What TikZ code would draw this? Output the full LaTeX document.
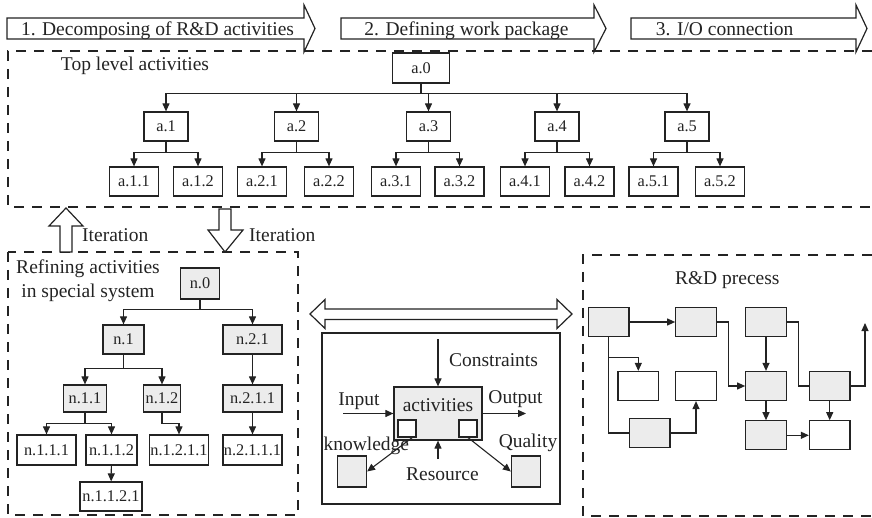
\documentclass[tikz,border=0pt]{standalone}
\usepackage{fontspec}
\setmainfont{Liberation Serif}
\usetikzlibrary{positioning,arrows.meta}
\definecolor{cEdge}{RGB}{35,35,35}
\definecolor{cFill}{RGB}{236,236,236}
\tikzset{
  box/.style={
    rectangle, draw=cEdge, line width=1.2pt, fill=white,
    font=\fontsize{16.3}{18}\selectfont, text=cEdge,
    inner sep=1pt, minimum height=29pt,
  },
  gbox/.style={box, fill=cFill},
  pbox/.style={box, minimum width=40.5pt, minimum height=29pt},
  lab/.style={font=\fontsize{19.5}{23.3}\selectfont, text=cEdge, inner sep=0pt},
  link/.style={line width=1.1pt, draw=cEdge},
  arr/.style={-{Triangle[length=8pt,width=7pt]}, line width=1.1pt, draw=cEdge},
  frame/.style={draw=cEdge, line width=1.1pt, dash pattern=on 10pt off 8pt},
  blockarr/.style={draw=cEdge, line width=1.2pt, fill=white, line join=miter},
}

\begin{document}
\begin{tikzpicture}[x=1pt, y=-1pt]
\useasboundingbox (0,0) rectangle (872,518);

% ===== dashed frames =====
\draw[frame] (872,51) -- (8,51) -- (8,207) -- (872,207);
\draw[frame] (8,252) rectangle (298,515);
\draw[frame] (872,255) -- (583,255) -- (583,516) -- (872,516);

% ===== step arrows on top =====
\draw[blockarr] (7,18) -- (304,18) -- (304,5) -- (315,28.5) -- (304,52) -- (304,39) -- (7,39) -- cycle;
\draw[blockarr] (341,18) -- (594,18) -- (594,5) -- (606,28.5) -- (594,52) -- (594,39) -- (341,39) -- cycle;
\draw[blockarr] (631,18) -- (856,18) -- (856,5) -- (867,28.5) -- (856,52) -- (856,39) -- (631,39) -- cycle;
\node[lab, anchor=base] (step1) at (157.5,36) {1. Decomposing of R\&D activities};
\node[lab, anchor=base] (step2) at (466.5,36) {2. Defining work package};
\node[lab, anchor=base] (step3) at (724.7,35.5) {3. I/O connection};

% ===== top level activities =====
\node[lab, anchor=base] (toplab) at (135,70.7) {Top level activities};

\node[box, minimum width=57pt, minimum height=30pt] (a0) at (421,68) {a.0};

\node[box, minimum width=44pt] (a1) at (166,126.5) {a.1};
\node[box, minimum width=44pt] (a2) at (296.5,126.5) {a.2};
\node[box, minimum width=44pt] (a3) at (428.5,126.5) {a.3};
\node[box, minimum width=44pt] (a4) at (557,126.5) {a.4};
\node[box, minimum width=44pt] (a5) at (687,126.5) {a.5};

\node[box, minimum width=49pt] (a11) at (134,181.5) {a.1.1};
\node[box, minimum width=49pt] (a12) at (198,181.5) {a.1.2};
\node[box, minimum width=49pt] (a21) at (262,181.5) {a.2.1};
\node[box, minimum width=49pt] (a22) at (329,181.5) {a.2.2};
\node[box, minimum width=49pt] (a31) at (396,181.5) {a.3.1};
\node[box, minimum width=49pt] (a32) at (459.5,181.5) {a.3.2};
\node[box, minimum width=49pt] (a41) at (525,181.5) {a.4.1};
\node[box, minimum width=49pt] (a42) at (589.5,181.5) {a.4.2};
\node[box, minimum width=49pt] (a51) at (653.5,181.5) {a.5.1};
\node[box, minimum width=49pt] (a52) at (720,181.5) {a.5.2};

\draw[arr] (a0.south) -- ++(0,9.7) -| (a1.north);
\draw[arr] (a0.south) -- ++(0,9.7) -| (a2.north);
\draw[arr] (a0.south) -- ++(0,9.7) -| (a3.north);
\draw[arr] (a0.south) -- ++(0,9.7) -| (a4.north);
\draw[arr] (a0.south) -- ++(0,9.7) -| (a5.north);

\draw[arr] (a1.south) -- ++(0,11) -| (a11.north);
\draw[arr] (a1.south) -- ++(0,11) -| (a12.north);
\draw[arr] (a2.south) -- ++(0,11) -| (a21.north);
\draw[arr] (a2.south) -- ++(0,11) -| (a22.north);
\draw[arr] (a3.south) -- ++(0,11) -| (a31.north);
\draw[arr] (a3.south) -- ++(0,11) -| (a32.north);
\draw[arr] (a4.south) -- ++(0,11) -| (a41.north);
\draw[arr] (a4.south) -- ++(0,11) -| (a42.north);
\draw[arr] (a5.south) -- ++(0,11) -| (a51.north);
\draw[arr] (a5.south) -- ++(0,11) -| (a52.north);

% ===== iteration arrows =====
\draw[blockarr] (60,252) -- (60,226) -- (49,226) -- (66,208) -- (83,226) -- (72,226) -- (72,252) -- cycle;
\draw[blockarr] (219,209) -- (231,209) -- (231,230) -- (243,230) -- (225,252) -- (208,230) -- (219,230) -- cycle;
\node[lab, anchor=base west] (iterup) at (82,241.7) {Iteration};
\node[lab, anchor=base west] (iterdown) at (249,241.7) {Iteration};

% ===== refining activities =====
\node[lab, align=center, anchor=base] (reflab) at (88,297.3) {Refining activities\\in special system};

\node[gbox, minimum width=39pt, minimum height=31pt] (n0) at (200,283.5) {n.0};
\node[gbox, minimum width=41pt] (n1) at (123.5,339.5) {n.1};
\node[gbox, minimum width=59pt] (n21) at (252.5,339.5) {n.2.1};
\node[gbox, minimum width=43pt, minimum height=27pt] (n11) at (85,398.5) {n.1.1};
\node[gbox, minimum width=37pt, minimum height=27pt] (n12) at (162,398.5) {n.1.2};
\node[gbox, minimum width=59pt, minimum height=27pt] (n211) at (252.5,398.5) {n.2.1.1};
\node[box, minimum width=59pt, minimum height=30pt] (n111) at (46.5,450) {n.1.1.1};
\node[box, minimum width=51pt, minimum height=30pt] (n112) at (111.5,450) {n.1.1.2};
\node[box, minimum width=58pt, minimum height=30pt] (n1211) at (179,450) {n.1.2.1.1};
\node[box, minimum width=59pt, minimum height=30pt] (n2111) at (252.5,450) {n.2.1.1.1};
\node[box, minimum width=62pt] (n1121) at (111,496.5) {n.1.1.2.1};

\draw[arr] (n0.south) -- ++(0,10) -| (n1.north);
\draw[arr] (n0.south) -- ++(0,10) -| (n21.north);
\draw[arr] (n1.south) -- ++(0,14) -| (n11.north);
\draw[arr] (n1.south) -- ++(0,14) -| (n12.north);
\draw[arr] (n11.south) -- ++(0,10.7) -| (n111.north);
\draw[arr] (n11.south) -- ++(0,10.7) -| (n112.north);
\draw[arr] (n12.south) -- ++(0,11) -| (n1211.north);
\draw[arr] (n112) -- (n1121);
\draw[arr] (n21) -- (n211);
\draw[arr] (n211) -- (n2111);

% ===== I/O connection =====
\draw[blockarr] (310,314) -- (325,299.5) -- (325,309) -- (557,309) -- (557,299.5) -- (572,314)
  -- (557,328.5) -- (557,319.5) -- (325,319.5) -- (325,328.5) -- cycle;

\node[draw=cEdge, line width=1.2pt, minimum width=238pt, minimum height=171pt, inner sep=0pt] (io) at (441,418.5) {};

\node[gbox, minimum width=88pt, minimum height=53pt] (act) at (438,413.5) {};
\node[lab, anchor=base] (actlab) at (438,411.7) {activities};
\node[box, minimum width=18pt, minimum height=17pt] (ks) at (407,428.5) {};
\node[box, minimum width=18pt, minimum height=17pt] (qs) at (468,428.5) {};
\node[gbox, minimum width=29pt, minimum height=31pt] (kq) at (352,471.5) {};
\node[gbox, minimum width=29pt, minimum height=31pt] (qq) at (526,471.5) {};

\coordinate (cons) at (438,339);
\coordinate (inp) at (343,413.5);
\coordinate (outp) at (526,413.5);
\coordinate (res) at (438,459);

\draw[arr] (cons) -- (act);
\draw[arr] (inp) -- (act);
\draw[arr] (act) -- (outp);
\draw[arr] (res) -- (act);
\draw[arr] (ks.300) -- (kq.east);
\draw[arr] (qs.south) -- (qq.west);

\node[lab, anchor=base] (lcons) at (493.5,366.7) {Constraints};
\node[lab, anchor=base] (linp) at (359,405.7) {Input};
\node[lab, anchor=base] (loutp) at (515.5,403) {Output};
\node[lab, anchor=base] (lknow) at (366.3,450.7) {knowledge};
\node[lab, anchor=base] (lres) at (442.5,480.7) {Resource};
\node[lab, anchor=base] (lqual) at (528,447.7) {Quality};

% ===== R&D process =====
\node[lab, anchor=base] (proclab) at (727.3,285) {R\&D precess};

\node[pbox, fill=cFill] (pr1) at (608.7,322) {};
\node[pbox, fill=cFill] (pr2) at (696,322) {};
\node[pbox, fill=cFill] (pr3) at (766,322) {};
\node[pbox] (pw1) at (638.3,386) {};
\node[pbox] (pw2) at (696,386) {};
\node[pbox, fill=cFill] (pr4) at (766,386) {};
\node[pbox, fill=cFill] (pr5) at (829.7,386) {};
\node[pbox, fill=cFill] (pr6) at (649.7,433) {};
\node[pbox, fill=cFill] (pr7) at (766,435.3) {};
\node[pbox] (pw3) at (829.7,435.3) {};
\coordinate (pout) at (865,323);

\draw[arr] (pr1) -- (pr2);
\draw[link] (pr1.south) |- (pr6.west);
\draw[arr] (pr1.south) ++(0,20) -| (pw1.north);
\draw[arr] (pr6.east) -| (pw2.south);
\draw[arr] (pr2.east) -- ++(11.3,0) |- (pr4.west);
\draw[arr] (pr3) -- (pr4);
\draw[link] (pr3.east) -- ++(11.3,0) |- (pr5.west);
\draw[arr] (pr5.east) -| (pout);
\draw[arr] (pr4) -- (pr7);
\draw[arr] (pr5) -- (pw3);
\draw[arr] (pr7) -- (pw3);

\end{tikzpicture}
\end{document}
